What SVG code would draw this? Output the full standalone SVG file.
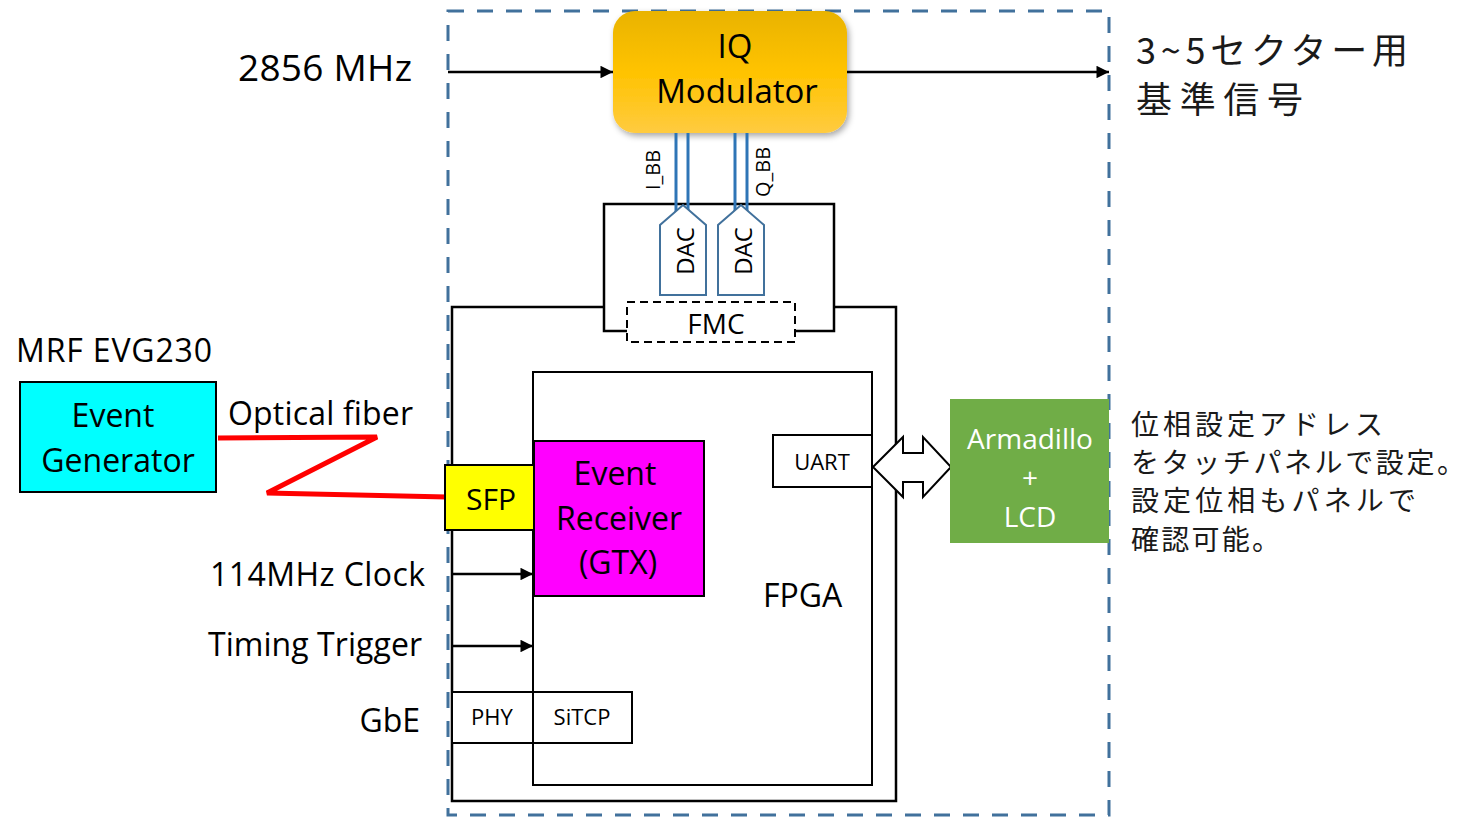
<svg xmlns="http://www.w3.org/2000/svg" width="1467" height="819" viewBox="0 0 1467 819">
<style>
.t{font-family:"Open Sans","Noto Sans CJK JP",sans-serif;fill:#000}
.jp{font-family:"Noto Sans CJK JP","Open Sans",sans-serif;fill:#1a1a1a}
.box{stroke:#000;stroke-width:2}
.ln{stroke:#000;stroke-width:2.5;fill:none}
.bb{stroke:#2E75B6;stroke-width:3;fill:none}
.dac{fill:#fff;stroke:#41719C;stroke-width:2}
.w{fill:#fff}
</style>
<defs>
<marker id="ah" viewBox="0 0 10 10" refX="10" refY="5" markerWidth="6" markerHeight="5" markerUnits="strokeWidth" orient="auto">
<path d="M0,0 L10,5 L0,10 z" fill="#000"/>
</marker>
<linearGradient id="gold" x1="0" y1="0" x2="0" y2="1">
<stop offset="0" stop-color="#E9B300"/>
<stop offset="0.5" stop-color="#FFC300"/>
<stop offset="1" stop-color="#FFCB40"/>
</linearGradient>
<filter id="sh" x="-10%" y="-10%" width="130%" height="130%">
<feDropShadow dx="2" dy="3" stdDeviation="3" flood-color="#000" flood-opacity="0.35"/>
</filter>
</defs>
<rect width="1467" height="819" fill="#fff"/>

<g id="enclosure">
<rect x="448" y="11" width="661" height="804" fill="none" stroke="#41719C" stroke-width="3" stroke-dasharray="16 13"/>
</g>

<g id="board">
<path d="M604,307 H452 V801 H896 V307 H834" class="ln" stroke-width="2"/>
</g>
<g id="mezzanine">
<path d="M627,331 H604 V204 H834 V331 H795" class="ln" stroke-width="2"/>
</g>
<g id="fmc">
<rect x="627" y="302" width="168" height="40" fill="#fff" stroke="#000" stroke-width="2" stroke-dasharray="8 5"/>
<text class="t" x="716" y="334" font-size="28" text-anchor="middle">FMC</text>
</g>
<g id="fpga">
<rect x="533" y="372" width="339" height="413" fill="#fff" class="box"/>
<text class="t" x="763" y="607" font-size="32">FPGA</text>
</g>

<g id="iq-modulator">
<rect x="613" y="11" width="234" height="122" rx="22" fill="url(#gold)" filter="url(#sh)"/>
<text class="t" x="735" y="58" font-size="33" text-anchor="middle">IQ</text>
<text class="t" x="737" y="103" font-size="33" text-anchor="middle">Modulator</text>
</g>

<g id="connectors">
<line x1="448" y1="72" x2="613" y2="72" class="ln" marker-end="url(#ah)"/>
<line x1="847" y1="72" x2="1109" y2="72" class="ln" marker-end="url(#ah)"/>
<line x1="452" y1="574" x2="533" y2="574" class="ln" marker-end="url(#ah)"/>
<line x1="452" y1="646" x2="533" y2="646" class="ln" marker-end="url(#ah)"/>
<line x1="676" y1="133" x2="676" y2="213" class="bb"/>
<line x1="688" y1="133" x2="688" y2="213" class="bb"/>
<line x1="735" y1="133" x2="735" y2="213" class="bb"/>
<line x1="747" y1="133" x2="747" y2="213" class="bb"/>
<polyline points="218,438 377,437 267,493 447,497" fill="none" stroke="#FF0000" stroke-width="5"/>
<polygon points="873,467 903,437 903,453 923,453 923,437 951,467 923,497 923,482 903,482 903,497" fill="#fff" stroke="#000" stroke-width="2"/>
</g>

<g id="dac-i">
<polygon points="660,295 660,225 683,205 706,225 706,295" class="dac"/>
<text class="t" transform="translate(694,251) rotate(-90)" font-size="24" text-anchor="middle">DAC</text>
</g>
<g id="dac-q">
<polygon points="718,295 718,225 741,205 764,225 764,295" class="dac"/>
<text class="t" transform="translate(752,251) rotate(-90)" font-size="24" text-anchor="middle">DAC</text>
</g>
<text class="t" transform="translate(660,170) rotate(-90)" font-size="20" text-anchor="middle">I_BB</text>
<text class="t" transform="translate(770,172) rotate(-90)" font-size="20" text-anchor="middle">Q_BB</text>

<g id="event-receiver">
<rect x="534" y="441" width="170" height="155" fill="#FF00FF" class="box"/>
<text class="t" x="615" y="485" font-size="32" text-anchor="middle">Event</text>
<text class="t" x="619" y="530" font-size="32" text-anchor="middle">Receiver</text>
<text class="t" x="618" y="574" font-size="32" text-anchor="middle">(GTX)</text>
</g>
<g id="sfp">
<rect x="445" y="465" width="89" height="65" fill="#FFFF00" class="box"/>
<text class="t" x="491" y="510" font-size="30" text-anchor="middle">SFP</text>
</g>
<g id="uart">
<rect x="773" y="435" width="99" height="52" fill="#fff" class="box"/>
<text class="t" x="822" y="470" font-size="22" text-anchor="middle">UART</text>
</g>
<g id="phy">
<rect x="452" y="692" width="81" height="51" fill="#fff" class="box"/>
<text class="t" x="492" y="725" font-size="22" text-anchor="middle">PHY</text>
</g>
<g id="sitcp">
<rect x="533" y="692" width="99" height="51" fill="#fff" class="box"/>
<text class="t" x="582" y="725" font-size="22" text-anchor="middle">SiTCP</text>
</g>

<g id="armadillo">
<rect x="950" y="399" width="159" height="144" fill="#70AD47"/>
<text class="t w" x="1030" y="449" font-size="28" text-anchor="middle" style="fill:#fff">Armadillo</text>
<text class="t w" x="1030" y="488" font-size="28" text-anchor="middle" style="fill:#fff">+</text>
<text class="t w" x="1030" y="527" font-size="28" text-anchor="middle" style="fill:#fff">LCD</text>
</g>

<g id="event-generator">
<rect x="20" y="382" width="196" height="110" fill="#00FFFF" class="box"/>
<text class="t" x="113" y="427" font-size="32" text-anchor="middle">Event</text>
<text class="t" x="118" y="472" font-size="32" text-anchor="middle">Generator</text>
</g>

<g id="labels">
<text class="t" x="238" y="81" font-size="37" textLength="174">2856 MHz</text>
<text class="t" x="16" y="362" font-size="32" textLength="196">MRF EVG230</text>
<text class="t" x="228" y="425" font-size="32" textLength="185">Optical fiber</text>
<text class="t" x="210" y="586" font-size="32" textLength="215">114MHz Clock</text>
<text class="t" x="208" y="656" font-size="32" textLength="214">Timing Trigger</text>
<text class="t" x="420" y="732" font-size="32" text-anchor="end">GbE</text>
<text class="jp" x="1136" y="64" font-size="36" textLength="272">3~5セクター用</text>
<text class="jp" x="1136" y="113" font-size="36" textLength="167">基準信号</text>
<text class="jp" x="1131" y="435" font-size="28" textLength="252">位相設定アドレス</text>
<text class="jp" x="1131" y="473" font-size="28" textLength="334">をタッチパネルで設定。</text>
<text class="jp" x="1131" y="511" font-size="28" textLength="285">設定位相もパネルで</text>
<text class="jp" x="1131" y="550" font-size="28" textLength="149">確認可能。</text>
</g>
</svg>
